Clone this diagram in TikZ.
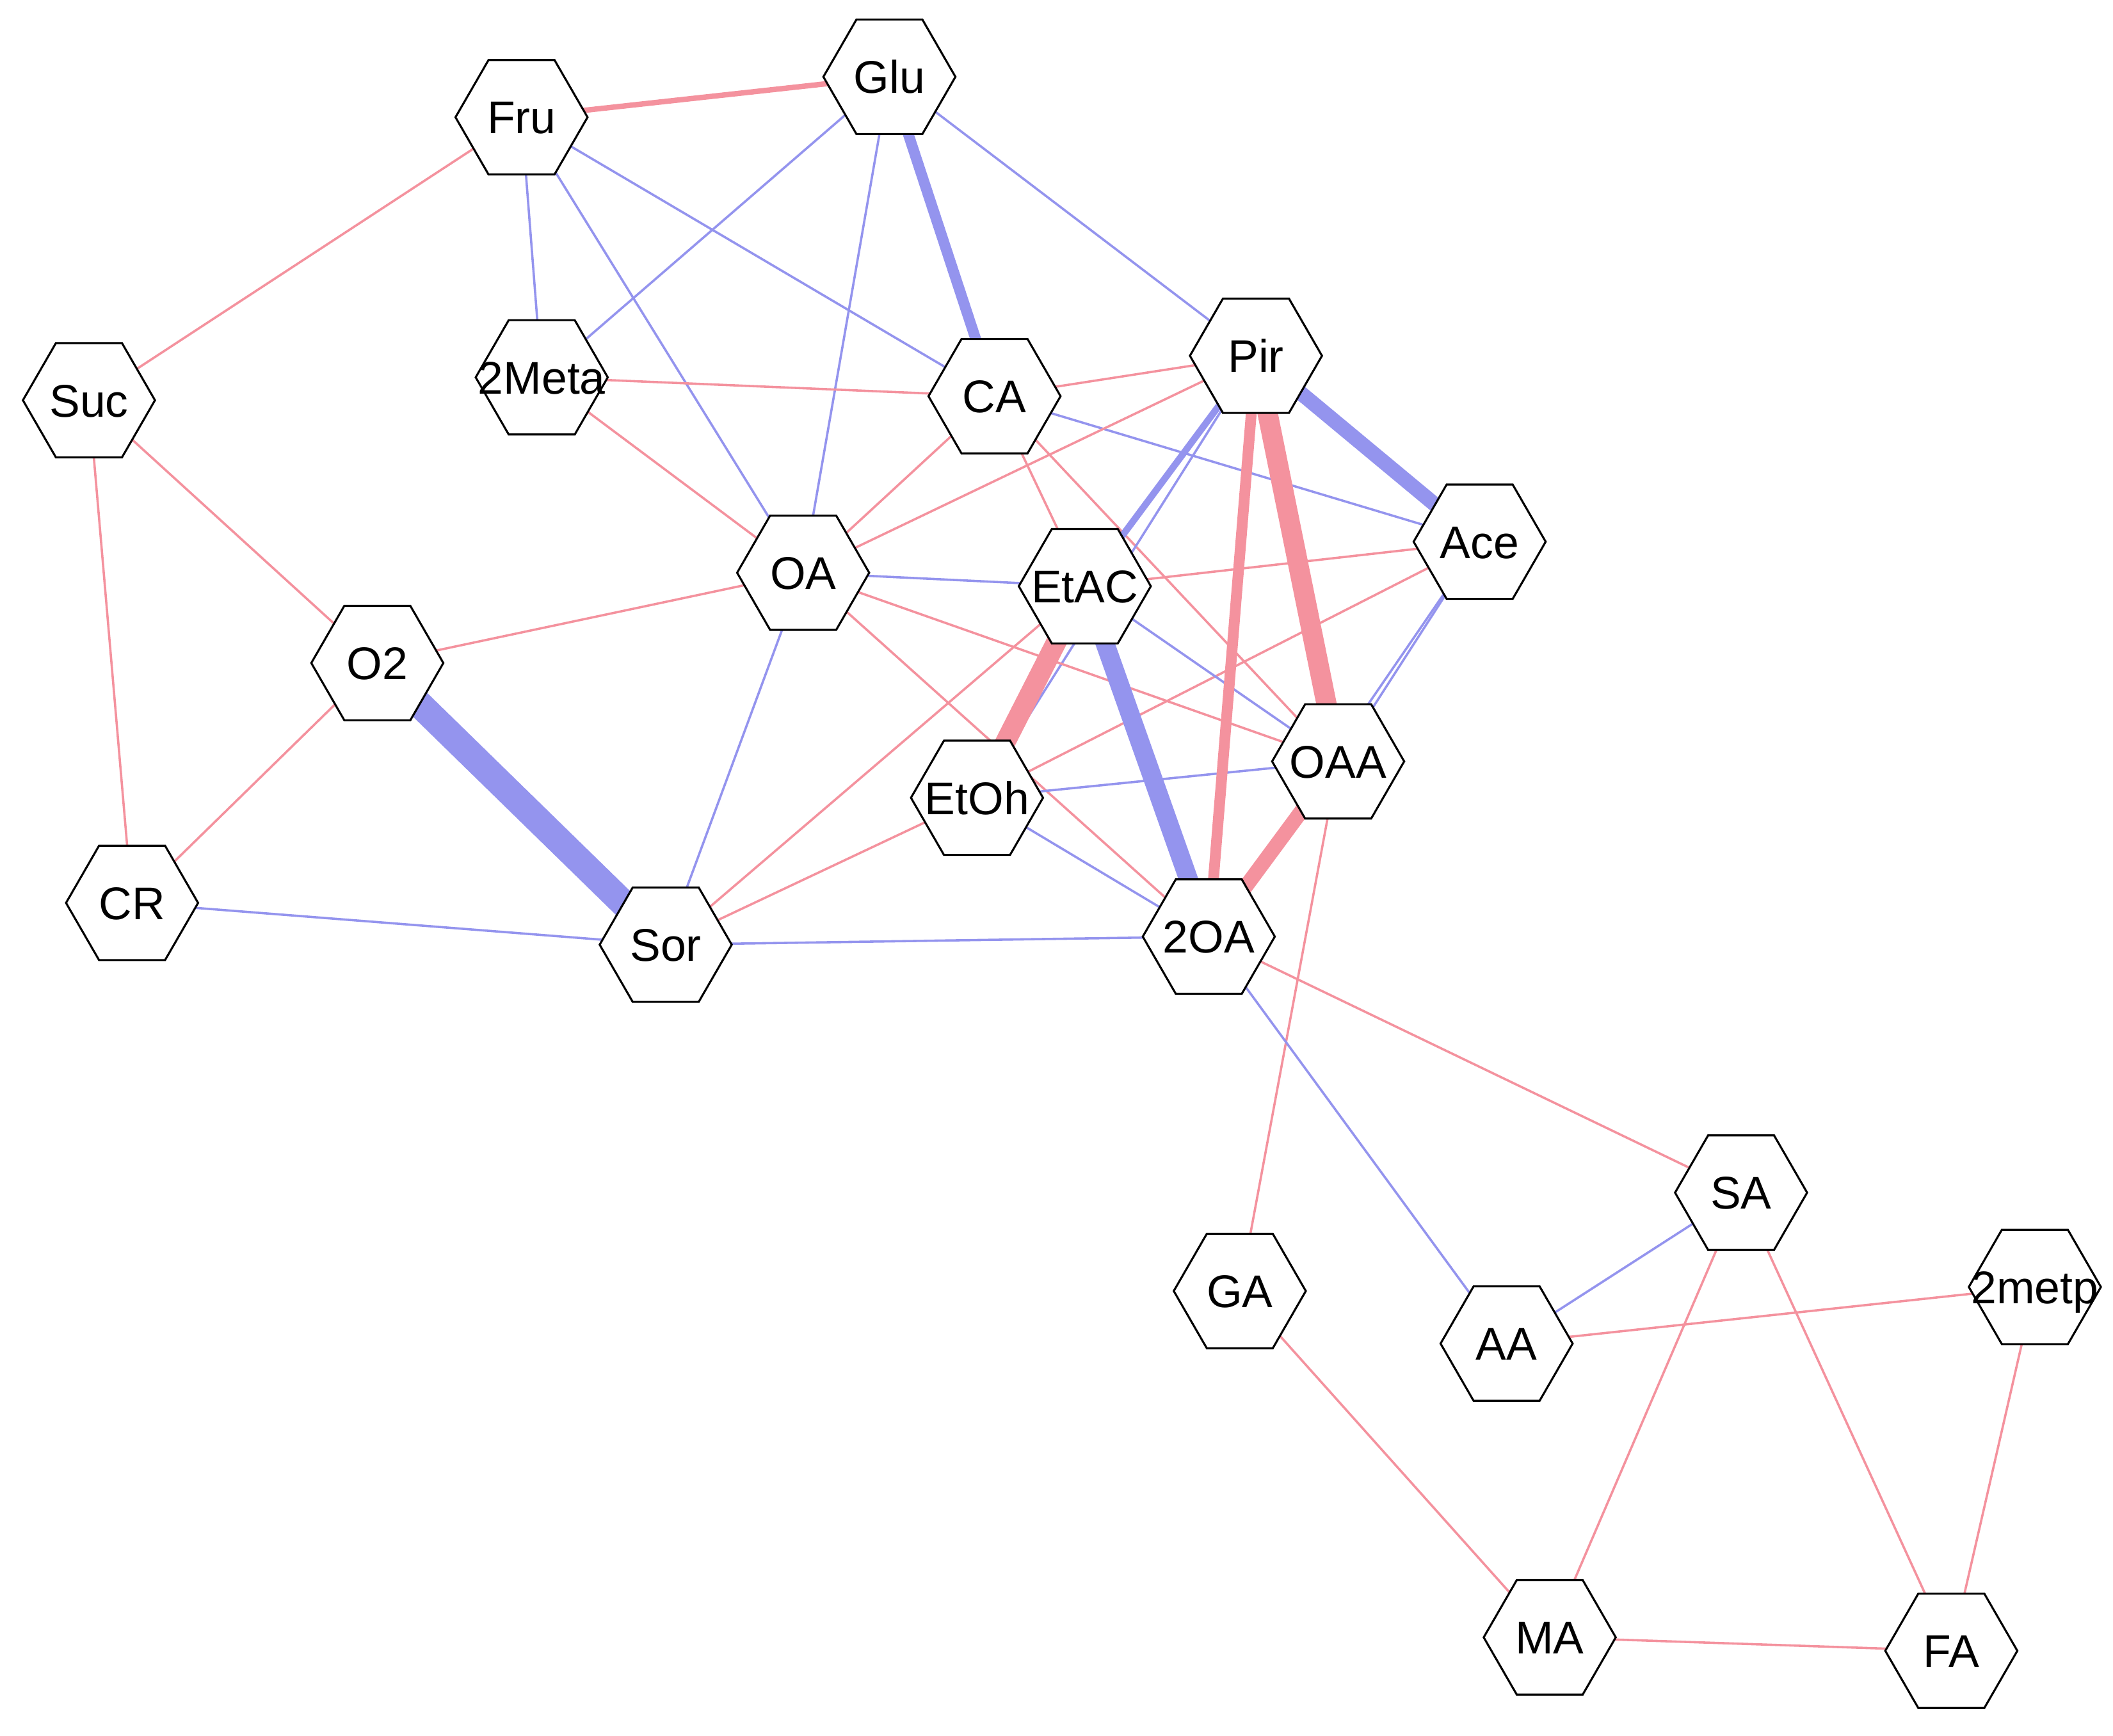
\documentclass[tikz,border=0pt]{standalone}
\usepackage{fontspec}
\setmainfont{Liberation Sans}
\usetikzlibrary{shapes.geometric}
\definecolor{rd}{RGB}{244,146,158}
\definecolor{bl}{RGB}{148,148,238}
\newcommand{\hlab}[1]{\raisebox{-0.36em}[0pt][0pt]{\makebox[0pt]{#1}}}
\begin{document}
\begin{tikzpicture}[x=1pt,y=-1pt,
  hex/.style={regular polygon,regular polygon sides=6,draw=black,line width=1.5pt,fill=white,inner sep=0pt,minimum size=98pt,font=\fontsize{34}{36}\selectfont},
  r/.style={draw=rd,line width=1.7pt},
  b/.style={draw=bl,line width=1.7pt}]
\useasboundingbox (0,0) rectangle (1568,1288);
\coordinate (Fru) at (387,87);
\coordinate (Glu) at (660,57);
\coordinate (Suc) at (66,297);
\coordinate (Meta) at (402,280);
\coordinate (CA) at (738,294);
\coordinate (Pir) at (932,264);
\coordinate (Ace) at (1098,402);
\coordinate (OA) at (596,425);
\coordinate (EtAC) at (805,435);
\coordinate (O2) at (280,492);
\coordinate (OAA) at (993,565);
\coordinate (EtOh) at (725,592);
\coordinate (CR) at (98,670);
\coordinate (Sor) at (494,701);
\coordinate (TOA) at (897,695);
\coordinate (SA) at (1292,885);
\coordinate (GA) at (920,958);
\coordinate (AA) at (1118,997);
\coordinate (metp) at (1510,955);
\coordinate (MA) at (1150,1215);
\coordinate (FA) at (1448,1225);
% edges
\draw[r] (Fru)--(Suc); \draw[b] (Fru)--(Meta); \draw[b] (Fru)--(OA); \draw[b] (Fru)--(CA);
\draw[b] (Glu)--(Meta); \draw[b] (Glu)--(OA); \draw[b] (Glu)--(Pir);
\draw[r] (Suc)--(O2); \draw[r] (Suc)--(CR);
\draw[r] (Meta)--(CA); \draw[r] (Meta)--(OA);
\draw[r] (CA)--(Pir); \draw[b] (CA)--(Ace); \draw[r] (CA)--(OA); \draw[r] (CA)--(EtAC); \draw[r] (CA)--(OAA);
\draw[r] (Pir)--(OA); \draw[b] (Pir)--(EtOh);
\draw[r] (Ace)--(EtAC); \draw[r] (Ace)--(EtOh); \draw[b] (Ace)--(OAA); \draw[b] (Ace)--(TOA);
\draw[r] (OA)--(O2); \draw[b] (OA)--(EtAC); \draw[r] (OA)--(OAA); \draw[r] (OA)--(TOA); \draw[b] (OA)--(Sor);
\draw[b] (EtAC)--(OAA); \draw[r] (EtAC)--(Sor);
\draw[r] (O2)--(CR);
\draw[b] (OAA)--(EtOh); \draw[r] (OAA)--(GA);
\draw[b] (EtOh)--(TOA); \draw[r] (EtOh)--(Sor);
\draw[b] (CR)--(Sor); \draw[b] (Sor)--(TOA);
\draw[r] (TOA)--(SA); \draw[b] (TOA)--(AA);
\draw[b] (SA)--(AA); \draw[r] (SA)--(MA); \draw[r] (SA)--(FA);
\draw[r] (AA)--(metp); \draw[r] (metp)--(FA); \draw[r] (GA)--(MA); \draw[r] (MA)--(FA);
% thick edges
\draw[r,line width=4pt] (Fru)--(Glu);
\draw[b,line width=8pt] (Glu)--(CA);
\draw[b,line width=11pt] (Pir)--(Ace);
\draw[b,line width=5pt] (Pir)--(EtAC);
\draw[r,line width=8pt] (Pir)--(TOA);
\draw[r,line width=15pt] (Pir)--(OAA);
\draw[r,line width=15pt] (EtAC)--(EtOh);
\draw[b,line width=14pt] (EtAC)--(TOA);
\draw[r,line width=11pt] (OAA)--(TOA);
\draw[b,line width=20pt] (O2)--(Sor);
% nodes
\foreach \n/\t in {Fru/Fru,Glu/Glu,Suc/Suc,Meta/2Meta,CA/CA,Pir/Pir,Ace/Ace,OA/OA,EtAC/EtAC,O2/O2,OAA/OAA,EtOh/EtOh,CR/CR,Sor/Sor,TOA/2OA,SA/SA,GA/GA,AA/AA,metp/2metp,MA/MA,FA/FA}
  \node[hex] (n\n) at (\n) {\hlab{\t}};
\end{tikzpicture}
\end{document}
